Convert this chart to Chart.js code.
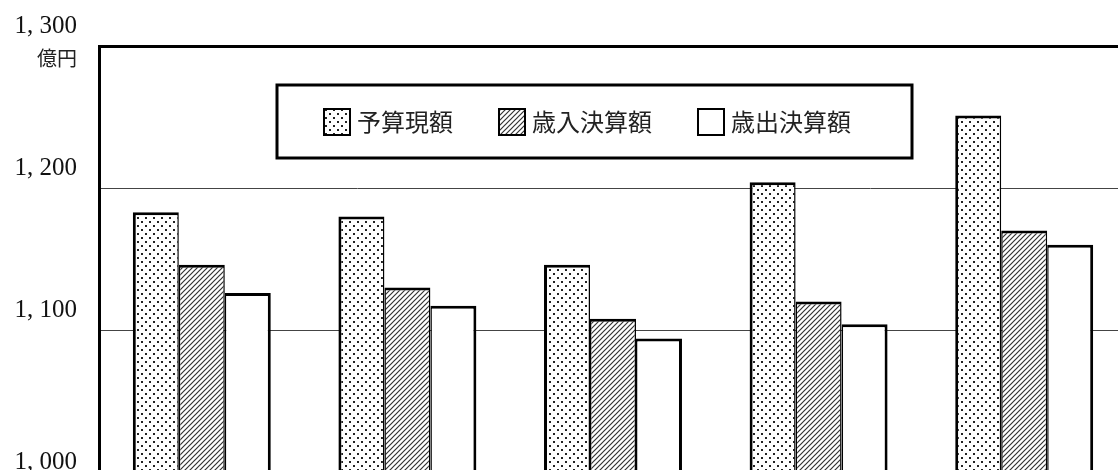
<!DOCTYPE html>
<html><head><meta charset="utf-8">
<script src="https://cdn.jsdelivr.net/npm/chart.js@4/dist/chart.umd.min.js"></script>
<style>html,body{margin:0;padding:0;overflow:hidden;background:#fff}canvas{display:block}</style>
</head><body>
<canvas id="c" width="1131" height="476"></canvas>
<script>
// ---- data ----
const categories = ['1', '2', '3', '4', '5'];
const seriesNames = ['予算現額', '歳入決算額', '歳出決算額'];
const budget = [1183, 1180, 1146, 1204, 1251];
const revenue = [1146, 1130, 1108, 1120, 1170];
const expenditure = [1126, 1117, 1094, 1104, 1160];
const yTickLabels = ['1, 000', '1, 100', '1, 200', '1, 300'];
const unitLabel = '億円';

// ---- patterns ----
function makeDots() {
  const t = document.createElement('canvas');
  t.width = 8; t.height = 8;
  const g = t.getContext('2d');
  g.fillStyle = '#fff'; g.fillRect(0, 0, 8, 8);
  g.fillStyle = '#222';
  g.fillRect(1, 1, 2, 2);
  g.fillRect(5, 5, 2, 2);
  return g.createPattern(t, 'repeat');
}
function makeHatch() {
  const s = 5;
  const t = document.createElement('canvas');
  t.width = s; t.height = s;
  const g = t.getContext('2d');
  g.fillStyle = '#fff'; g.fillRect(0, 0, s, s);
  g.strokeStyle = '#333'; g.lineWidth = 1.2;
  g.beginPath();
  g.moveTo(-1, s + 1); g.lineTo(s + 1, -1);
  g.moveTo(-1, 1); g.lineTo(1, -1);
  g.moveTo(s - 1, s + 1); g.lineTo(s + 1, s - 1);
  g.stroke();
  return g.createPattern(t, 'repeat');
}
const fills = [makeDots(), makeHatch(), '#ffffff'];
const borders = [
  {top: 3, left: 3, right: 1.5, bottom: 0},
  {top: 3, left: 1.5, right: 1.5, bottom: 0},
  {top: 3, left: 1.5, right: 3, bottom: 0}
];
const seriesData = [budget, revenue, expenditure];

const CJK = '"Noto Sans CJK JP", "Noto Sans", sans-serif';
const SERIF = '"Liberation Serif", "DejaVu Serif", serif';

// ---- plugins ----
const unitPlugin = {
  id: 'unit',
  afterDraw(chart) {
    const y = chart.scales.y;
    const ctx = chart.ctx;
    ctx.save();
    ctx.font = '20px ' + CJK;
    ctx.fillStyle = '#222';
    ctx.textAlign = 'right';
    ctx.textBaseline = 'middle';
    ctx.fillText(unitLabel, y.right - 22, y.getPixelForValue(1300) + 12);
    ctx.restore();
  }
};

const boxLegend = {
  id: 'boxLegend',
  afterDraw(chart) {
    const ctx = chart.ctx;
    const a = chart.chartArea;
    const L = a.left + 178, T = a.top + 39, W = 635, H = 73;
    ctx.save();
    ctx.fillStyle = '#fff';
    ctx.fillRect(L, T, W, H);
    ctx.lineWidth = 3;
    ctx.strokeStyle = '#000';
    ctx.strokeRect(L, T, W, H);
    ctx.font = '24px ' + CJK;
    ctx.textBaseline = 'middle';
    ctx.textAlign = 'left';
    const cy = T + H / 2 + 0.5;
    let x = L + 47;
    const box = 26;
    chart.data.datasets.forEach((ds) => {
      ctx.fillStyle = ds.backgroundColor;
      ctx.fillRect(x, cy - box / 2, box, box);
      ctx.lineWidth = 2;
      ctx.strokeStyle = '#000';
      ctx.strokeRect(x, cy - box / 2, box, box);
      x += box + 7;
      ctx.fillStyle = '#222';
      ctx.fillText(ds.label, x, cy);
      x += ctx.measureText(ds.label).width + 46;
    });
    ctx.restore();
  }
};

new Chart(document.getElementById('c'), {
  type: 'bar',
  data: {
    labels: categories,
    datasets: seriesNames.map((name, i) => ({
      label: name,
      data: seriesData[i],
      backgroundColor: fills[i],
      borderColor: '#000',
      borderWidth: borders[i],
      categoryPercentage: 0.671,
      barPercentage: 1.0
    }))
  },
  options: {
    responsive: false,
    animation: false,
    events: [],
    layout: {padding: {top: 46, right: 4, bottom: 4, left: 0}},
    plugins: {legend: {display: false}, tooltip: {enabled: false}},
    scales: {
      x: {display: false},
      y: {
        min: 1000, max: 1300,
        afterFit(s) { s.width = 99; s.paddingTop = 0; s.paddingBottom = 0; },
        ticks: {
          stepSize: 100,
          padding: 22,
          labelOffset: -20,
          color: '#111',
          font: (c) => ({family: SERIF, size: 25, lineHeight: c.index === 0 ? 0.8 : 1.2}),
          callback: (v, i) => (i === 0 ? ['', yTickLabels[i]] : yTickLabels[i])
        },
        grid: {
          drawTicks: false,
          color: (c) => (c.tick && c.tick.value === 1300 ? '#000' : '#444'),
          lineWidth: (c) => (c.tick && c.tick.value === 1300 ? 3 : 1)
        },
        border: {display: true, color: '#000', width: 3}
      }
    }
  },
  plugins: [unitPlugin, boxLegend]
});
</script>
</body></html>
